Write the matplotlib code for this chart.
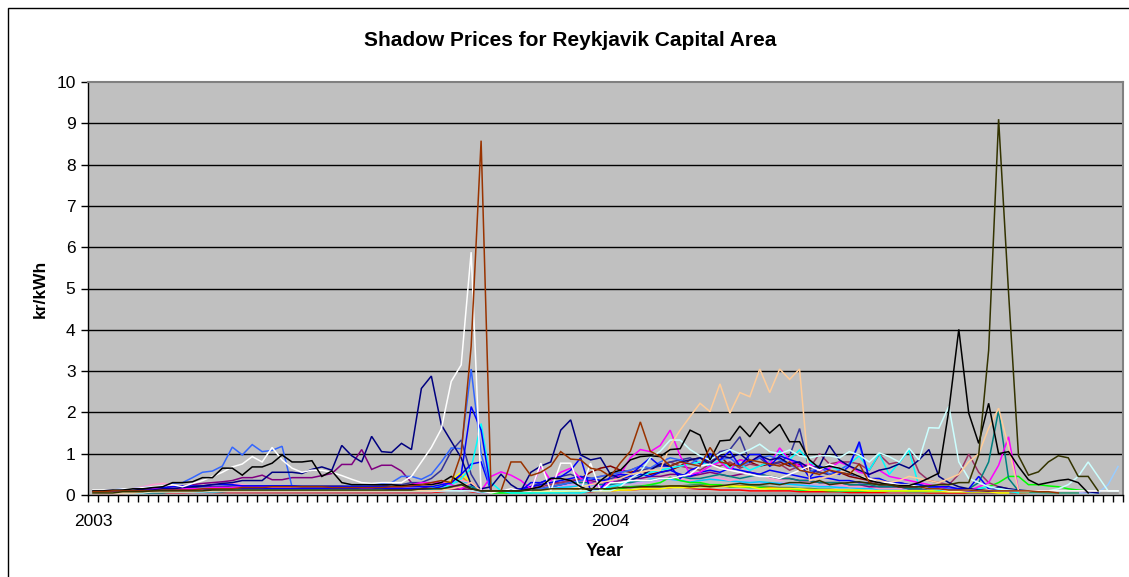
import numpy as np
import matplotlib
matplotlib.use("Agg")
import matplotlib.pyplot as plt
from matplotlib.patches import Rectangle

plt.rcParams['font.family'] = ['Liberation Sans', 'DejaVu Sans']

title = "Shadow Prices for Reykjavik Capital Area"
y_label = "kr/kWh"
x_label = "Year"
n_weeks = 104
year_labels = {0: "2003", 52: "2004"}

navy = [
    .10, .10, .10, .12, .12, .12, .12, .15, .15, .18,
    .20, .22, .25, .28, .30, .35, .35, .35, .55, .55,
    .55, .52, .62, .68, .60, 1.20, .95, .80, 1.42, 1.05,
    1.03, 1.25, 1.10, 2.58, 2.88, 1.70, 1.30, .90, .25, .15,
    .20, .50, .25, .10, .55, .70, .80, 1.57, 1.82, .97,
    .85, .90, .50, .40, .35, .45, .60, .75, .70, .80,
    .85, .90, .75, .95, .90, 1.00, .80, .95, .85, .90,
    .75, .80, .65, .70, 1.20, .85, .70, .60, .50, .60,
    .65, .75, .65, .85, 1.10, .45, .30, .20, .15, .12,
    .10, .20, .15, .12, .10, .10, .10, .10, .10, .10,
    .08, .05, None, None]

white = [
    .12, .12, .12, .15, .15, .18, .20, .22, .25, .20,
    .28, .35, .45, .55, .68, .75, .93, .80, 1.15, .85,
    .65, .55, .60, .60, .55, .47, .38, .30, .28, .30,
    .30, .30, .45, .80, 1.15, 1.60, 2.75, 3.15, 5.88, .10,
    .05, .10, .15, .10, .10, .77, .10, .77, .77, .10,
    .77, .10, .30, .30, .35, .35, .35, .40, .40, .45,
    .50, .70, .75, .65, .60, .55, .50, .45, .45, .40,
    .50, .60, .70, .60, .75, .65, .55, .45, .40, .30,
    .30, .25, .25, .20, .15, .15, .10, .10, .12, .10,
    .12, .10, .10, .10, .10, .10, .10, .10, .10, .10,
    .10, .10, .10, .10]

light_blue = [
    .10, .10, .12, .15, .15, .18, .20, .20, .28, .30,
    .42, .55, .58, .70, 1.16, .97, 1.22, 1.05, 1.08, 1.18,
    .20, .20, .20, .20, .20, .20, .22, .22, .25, .28,
    .30, .45, .45, .38, .50, .80, 1.14, 1.12, 3.05, 1.00,
    .10, .10, .10, .10, .10, .15, .20, .25, .30, .35,
    .40, .45, .50, .55, .60, .70, .65, .80, .90, .85,
    .75, .90, .95, .85, .90, .70, .80, .90, .95, .85,
    .75, .60, .55, .70, .50, .60, .75, 1.22, .40, .35,
    .30, .25, .25, .20, .20, .15, .15, .12, .10, .10,
    .10, .10, .10, .10, .10, .10, .10, .10, .10, .10,
    .10, .10, None, None]

black = [
    .10, .10, .12, .12, .15, .15, .18, .20, .30, .30,
    .32, .42, .42, .65, .65, .48, .68, .68, .77, .97,
    .80, .80, .83, .45, .58, .30, .25, .25, .25, .25,
    .25, .22, .25, .25, .25, .30, .45, .30, .15, .10,
    .10, .10, .10, .10, .15, .20, .40, .40, .35, .20,
    .10, .35, .53, .60, .85, .93, .95, .93, 1.10, 1.12,
    1.57, 1.45, .85, 1.31, 1.33, 1.67, 1.41, 1.76, 1.50, 1.71,
    1.29, 1.29, .85, .65, .70, .65, .55, .45, .35, .30,
    .25, .23, .23, .30, .41, .53, 2.05, 4.01, 1.98, 1.25,
    2.22, 1.00, 1.05, .69, .37, .25, .30, .35, .38, .30,
    .05, None, None, None]

brown = [
    .08, .08, .10, .10, .10, .10, .10, .12, .12, .12,
    .12, .15, .15, .15, .15, .18, .18, .18, .20, .20,
    .20, .20, .20, .20, .18, .18, .18, .18, .18, .18,
    .20, .20, .22, .25, .30, .35, .30, 1.00, 3.60, 8.58,
    .10, .10, .80, .80, .47, .55, .70, 1.05, .87, .85,
    .65, .60, .45, .78, 1.06, 1.77, 1.06, .93, .70, .80,
    .75, .70, 1.15, .80, .75, .70, .85, .80, .75, .70,
    .80, .60, .55, .50, .60, .55, .50, .75, .30, .25,
    .25, .20, .20, .20, .15, .15, .12, .12, .12, .10,
    .10, .10, .10, .10, .10, .08, .08, .05, None, None,
    None, None, None, None]

olive = [
    .05, .05, .05, .08, .08, .08, .10, .10, .10, .10,
    .10, .10, .12, .12, .12, .12, .12, .12, .12, .12,
    .12, .12, .12, .12, .12, .12, .12, .12, .12, .12,
    .12, .12, .12, .15, .15, .15, .20, .25, .15, .10,
    .10, .10, .10, .10, .12, .12, .15, .15, .15, .15,
    .15, .15, .15, .18, .18, .20, .20, .20, .22, .22,
    .20, .22, .20, .22, .25, .28, .25, .25, .28, .25,
    .30, .30, .28, .35, .25, .28, .30, .32, .28, .25,
    .25, .20, .20, .20, .22, .25, .25, .30, .30, .97,
    3.50, 9.10, 4.90, .95, .48, .56, .80, .95, .90, .45,
    .45, .10, None, None]

pale_cyan = [
    .05, .05, .05, .05, .05, .05, .08, .08, .08, .08,
    .08, .08, .10, .10, .10, .10, .10, .10, .10, .10,
    .10, .10, .10, .10, .10, .10, .10, .10, .10, .10,
    .10, .10, .10, .10, .10, .10, .10, .10, .10, .10,
    .10, .10, .10, .10, .10, .10, .10, .10, .10, .10,
    .10, .10, .10, .20, .40, .55, .90, 1.06, 1.33, 1.33,
    1.10, .95, .85, 1.00, 1.10, 1.00, 1.10, 1.23, 1.05, 1.00,
    1.09, .95, .90, .95, .95, .90, 1.05, .97, .80, 1.02,
    .93, .80, 1.13, .85, 1.63, 1.62, 2.15, .80, .40, .30,
    .20, .15, .12, .10, .10, .10, .10, .15, .25, .45,
    .80, .45, .10, .10]

tan = [
    .05, .05, .05, .05, .05, .08, .08, .08, .08, .08,
    .08, .10, .10, .10, .10, .10, .10, .10, .10, .10,
    .10, .10, .10, .10, .10, .10, .10, .10, .10, .10,
    .10, .10, .10, .10, .10, .12, .15, .20, .30, .10,
    .10, .10, .10, .10, .10, .12, .12, .15, .15, .20,
    .25, .30, .35, .40, .50, .55, .60, .60, 1.20, 1.57,
    1.90, 2.22, 2.02, 2.69, 1.98, 2.48, 2.38, 3.05, 2.48, 3.05,
    2.80, 3.05, .35, .40, .45, .55, .60, .45, .40, .35,
    .30, .35, .45, .40, .35, .30, .40, .50, .80, 1.00,
    1.62, 2.10, 1.17, .10, .10, .10, .10, .10, .10, .10,
    .10, .10, None, None]

teal = [
    .05, .05, .05, .05, .05, .05, .05, .05, .08, .08,
    .08, .08, .08, .08, .10, .10, .10, .10, .10, .10,
    .10, .10, .10, .10, .10, .10, .10, .10, .10, .10,
    .10, .10, .10, .10, .12, .15, .20, .25, .20, .10,
    .10, .10, .10, .10, .12, .15, .20, .25, .30, .30,
    .30, .25, .25, .30, .30, .35, .35, .40, .40, .45,
    .40, .40, .45, .50, .45, .40, .45, .50, .45, .40,
    .40, .35, .35, .30, .30, .30, .25, .25, .25, .20,
    .20, .20, .15, .15, .15, .15, .15, .12, .15, .30,
    .80, 2.05, .40, .10, None, None, None, None, None, None,
    None, None, None, None]

magenta = [
    .08, .08, .10, .10, .10, .12, .15, .15, .15, .15,
    .15, .15, .18, .18, .18, .20, .20, .20, .20, .20,
    .20, .20, .20, .20, .20, .20, .20, .18, .18, .20,
    .20, .20, .25, .30, .30, .30, .25, .15, .30, .10,
    .45, .56, .48, .35, .15, .70, .35, .55, .65, .40,
    .30, .20, .30, .50, .90, 1.10, 1.05, 1.20, 1.57, .95,
    .50, .55, .70, .80, .60, .85, .80, .95, .75, 1.14,
    .85, .70, .75, .60, .65, .80, .70, .55, .50, .60,
    .45, .40, .35, .30, .25, .20, .15, .12, .10, .20,
    .30, .72, 1.41, .10, None, None, None, None, None, None,
    None, None, None, None]

cyan = [
    .10, .10, .10, .10, .10, .10, .10, .10, .10, .10,
    .10, .10, .10, .12, .12, .12, .12, .12, .12, .12,
    .12, .12, .12, .12, .12, .12, .12, .12, .12, .12,
    .10, .10, .10, .10, .12, .15, .25, .40, .65, 1.73,
    .30, .10, .05, .05, .05, .05, .05, .05, .05, .05,
    .10, .15, .20, .25, .35, .45, .55, .60, .65, .70,
    .75, .80, .70, .85, .65, .75, .60, .70, .80, 1.06,
    .86, 1.09, .80, .65, .70, .60, .75, .95, .60, 1.00,
    .50, .78, 1.09, .20, .15, .12, .12, .12, .12, .15,
    .20, .15, .10, .05, None, None, None, None, None, None,
    None, None, None, None]

blue = [
    .10, .10, .12, .12, .15, .15, .18, .18, .20, .22,
    .22, .22, .25, .25, .25, .22, .22, .22, .22, .22,
    .22, .20, .20, .20, .20, .20, .20, .20, .20, .20,
    .20, .20, .20, .20, .20, .25, .30, .50, 2.14, 1.57,
    .10, .10, .10, .10, .30, .30, .40, .44, .60, .90,
    .10, .15, .45, .50, .48, .70, .90, .70, .70, .40,
    .60, .69, 1.00, .85, 1.06, .70, .98, .98, .70, .95,
    .86, .78, .42, .70, .60, .50, .70, 1.29, .40, .40,
    .30, .30, .25, .25, .20, .20, .20, .15, .15, .45,
    .15, .10, .10, .10, None, None, None, None, None, None,
    None, None, None, None]

blue_b = [
    .08, .08, .08, .10, .10, .10, .10, .12, .12, .12,
    .12, .12, .15, .15, .15, .15, .15, .15, .15, .15,
    .15, .15, .15, .15, .15, .15, .15, .15, .15, .15,
    .15, .15, .15, .15, .15, .20, .30, .50, .75, .80,
    .10, .10, .12, .15, .20, .25, .30, .35, .40, .45,
    .40, .35, .35, .40, .45, .50, .45, .55, .60, .50,
    .45, .55, .60, .55, .65, .60, .55, .50, .60, .55,
    .50, .45, .40, .45, .40, .35, .35, .30, .30, .25,
    .25, .20, .20, .20, .15, .15, .15, .12, .12, .10,
    .10, .10, .10, None, None, None, None, None, None, None,
    None, None, None, None]

purple = [
    .10, .10, .10, .12, .12, .15, .15, .18, .20, .22,
    .25, .28, .30, .32, .35, .42, .42, .48, .37, .37,
    .42, .42, .42, .47, .52, .74, .74, 1.10, .62, .72,
    .72, .58, .30, .20, .15, .15, .15, .15, .12, .10,
    .10, .10, .12, .15, .20, .25, .30, .30, .35, .35,
    .35, .30, .30, .35, .40, .40, .45, .45, .50, .50,
    .45, .50, .55, .50, .45, .50, .55, .50, .45, .40,
    .40, .35, .35, .30, .30, .30, .25, .25, .20, .20,
    .20, .20, .15, .15, .15, .15, .12, .12, .10, .10,
    .10, .10, .10, .10, .10, None, None, None, None, None,
    None, None, None, None]

plum = [
    .08, .08, .08, .10, .10, .10, .10, .10, .12, .12,
    .12, .12, .12, .12, .12, .12, .12, .12, .12, .12,
    .12, .12, .12, .12, .12, .12, .12, .12, .12, .12,
    .12, .12, .12, .15, .15, .15, .20, .20, .15, .10,
    .10, .10, .10, .12, .15, .20, .25, .30, .35, .40,
    .40, .45, .50, .55, .60, .70, .65, .75, .80, .70,
    .65, .60, .75, .70, .80, .65, .75, .70, .80, .75,
    .60, .70, .65, 1.00, .75, .80, .80, .75, .60, .98,
    .75, .80, 1.11, .55, .35, .30, .25, .50, .99, .55,
    .30, .20, .15, .10, .10, .10, .10, .10, None, None,
    None, None, None, None]

indigo = [
    .10, .10, .10, .12, .12, .12, .15, .15, .15, .18,
    .18, .20, .20, .20, .22, .22, .22, .22, .22, .22,
    .22, .22, .22, .22, .22, .22, .22, .22, .22, .22,
    .25, .25, .30, .30, .40, .60, 1.06, 1.33, .50, .10,
    .10, .10, .10, .15, .20, .30, .40, .45, .50, .40,
    .40, .35, .40, .45, .50, .60, .65, .70, .80, .85,
    .90, .75, .80, 1.05, 1.10, 1.41, .80, .90, .70, .80,
    .95, 1.61, .60, .55, .50, .55, .50, .45, .40, .35,
    .30, .30, .25, .25, .20, .20, .15, .15, .12, .10,
    .10, .10, .10, .10, .10, .10, None, None, None, None,
    None, None, None, None]

dark_red = [
    .08, .08, .08, .08, .10, .10, .10, .10, .10, .12,
    .12, .12, .12, .12, .15, .15, .15, .15, .15, .15,
    .15, .15, .15, .15, .15, .15, .15, .15, .15, .15,
    .15, .15, .15, .15, .15, .15, .15, .15, .12, .10,
    .10, .10, .10, .10, .10, .15, .20, .25, .30, .40,
    .55, .65, .70, .60, .55, .60, .50, .55, .60, .70,
    .85, .90, .80, .95, .70, .85, .80, .70, .75, .80,
    .70, .75, .60, .55, .50, .55, .45, .40, .35, .30,
    .25, .25, .20, .20, .20, .20, .15, .15, .15, .15,
    .12, .10, .10, .10, .10, None, None, None, None, None,
    None, None, None, None]

yellow = [
    .10, .10, .10, .10, .10, .12, .12, .12, .12, .15,
    .15, .15, .15, .15, .18, .18, .18, .20, .20, .20,
    .20, .18, .18, .18, .15, .15, .15, .15, .15, .15,
    .15, .15, .15, .15, .20, .25, .35, .55, .30, .10,
    .10, .10, .10, .08, .08, .08, .08, .08, .10, .10,
    .10, .10, .10, .12, .12, .15, .15, .15, .18, .18,
    .18, .20, .20, .20, .22, .20, .20, .15, .15, .15,
    .15, .15, .12, .12, .12, .12, .12, .12, .10, .10,
    .10, .10, .10, .10, .10, .10, .08, .08, .08, .08,
    .08, .05, .05, None, None, None, None, None, None, None,
    None, None, None, None]

green = [
    None, None, None, None, None, None, None, None, None, None,
    None, None, None, None, None, None, None, None, None, None,
    None, None, None, None, None, None, None, None, None, None,
    None, None, None, None, None, None, None, None, None, None,
    .05, .05, .05, .05, .05, .10, .10, .10, .10, .10,
    .10, .12, .15, .15, .20, .20, .25, .30, .43, .35,
    .30, .30, .25, .25, .20, .20, .18, .18, .15, .15,
    .15, .12, .12, .12, .10, .10, .10, .10, .10, .10,
    .10, .10, .10, .10, .10, .10, .10, .12, .10, .15,
    .20, .30, .45, .45, .25, .25, .22, .20, .15, .12,
    .10, None, None, None]

rose = [
    .10, .10, .10, .12, .15, .20, .25, .28, .25, .20,
    .20, .22, .25, .28, .28, .25, .22, .20, .20, .20,
    .18, .18, .18, .18, .18, .18, .18, .18, .18, .18,
    .18, .18, .20, .20, .25, .30, .35, .35, .30, .10,
    .10, .10, .12, .15, .20, .25, .30, .30, .35, .35,
    .30, .30, .25, .30, .35, .40, .35, .40, .45, .40,
    .35, .40, .45, .40, .35, .40, .45, .50, .40, .35,
    .40, .35, .30, .30, .25, .25, .20, .20, .20, .15,
    .15, .15, .15, .12, .12, .12, .10, .10, .10, .10,
    .10, .10, .10, .10, .10, .10, .10, .10, .10, .10,
    None, None, None, None]

lavender = [
    .06, .06, .06, .08, .08, .08, .10, .10, .10, .10,
    .12, .12, .12, .12, .14, .14, .14, .14, .14, .14,
    .14, .14, .14, .14, .14, .14, .14, .14, .14, .14,
    .14, .14, .14, .16, .18, .20, .22, .25, .15, .08,
    .08, .08, .10, .12, .15, .18, .20, .22, .25, .25,
    .22, .20, .22, .25, .28, .30, .32, .35, .38, .35,
    .32, .35, .38, .40, .35, .32, .35, .30, .28, .30,
    .28, .25, .25, .22, .22, .20, .20, .18, .18, .16,
    .16, .14, .14, .14, .12, .12, .12, .10, .10, .10,
    .10, .10, .08, .08, .08, .08, .08, .08, .08, .08,
    .08, .08, None, None]

pale_blue = [
    .05, .05, .05, .05, .05, .05, .05, .06, .06, .06,
    .06, .06, .06, .08, .08, .08, .08, .08, .08, .08,
    .08, .08, .08, .08, .08, .08, .08, .08, .08, .08,
    .08, .08, .08, .08, .08, .10, .10, .12, .10, .05,
    .05, .05, .05, .05, .06, .06, .08, .08, .10, .10,
    .12, .12, .14, .14, .16, .16, .18, .18, .20, .20,
    .18, .18, .20, .20, .22, .20, .18, .18, .16, .16,
    .14, .14, .12, .12, .12, .10, .10, .10, .10, .10,
    .08, .08, .08, .08, .08, .08, .08, .08, .06, .06,
    .06, .06, .06, .06, .05, .05, .05, .05, .05, .05,
    .05, .05, .25, .69]

sky_blue = [
    .08, .08, .08, .08, .10, .10, .10, .10, .12, .12,
    .12, .12, .14, .14, .14, .14, .14, .14, .14, .14,
    .14, .14, .14, .14, .14, .14, .14, .14, .14, .14,
    .14, .14, .14, .16, .18, .22, .28, .35, .25, .08,
    .06, .06, .06, .08, .10, .12, .15, .18, .20, .22,
    .25, .25, .28, .30, .32, .35, .38, .40, .38, .35,
    .32, .35, .38, .36, .34, .32, .30, .32, .30, .28,
    .26, .24, .22, .20, .20, .18, .18, .16, .16, .14,
    .14, .12, .12, .12, .10, .10, .10, .10, .10, .10,
    .10, .10, .08, .08, .08, None, None, None, None, None,
    None, None, None, None]

orange = [
    .06, .06, .06, .06, .08, .08, .08, .08, .08, .10,
    .10, .10, .10, .10, .10, .10, .10, .10, .10, .10,
    .10, .10, .10, .10, .10, .10, .10, .10, .10, .10,
    .10, .10, .10, .12, .15, .22, .30, .45, .25, .08,
    .06, .06, .06, .06, .08, .08, .10, .10, .12, .12,
    .14, .14, .16, .16, .18, .18, .20, .20, .22, .22,
    .20, .22, .24, .22, .20, .22, .20, .18, .18, .16,
    .16, .14, .14, .12, .12, .12, .10, .10, .10, .10,
    .10, .10, .10, .10, .08, .08, .08, .08, .08, .08,
    .08, .08, .08, .06, .06, None, None, None, None, None,
    None, None, None, None]

red = [
    .04, .04, .04, .04, .05, .05, .05, .05, .05, .05,
    .06, .06, .06, .06, .06, .06, .06, .06, .06, .06,
    .06, .06, .06, .06, .06, .06, .06, .06, .06, .06,
    .06, .06, .06, .06, .06, .08, .10, .12, .08, .05,
    .05, .05, .05, .05, .05, .06, .06, .06, .08, .08,
    .08, .10, .10, .12, .12, .14, .14, .16, .18, .20,
    .16, .14, .14, .12, .12, .12, .10, .10, .10, .10,
    .10, .08, .08, .08, .08, .08, .06, .06, .06, .06,
    .06, .06, .06, .06, .05, .05, .05, .05, .05, .05,
    .05, .05, .05, .05, .05, None, None, None, None, None,
    None, None, None, None]

gray = [
    .04, .04, .04, .04, .04, .04, .04, .04, .04, .04,
    .04, .04, .04, .04, .04, .04, .04, .04, .04, .04,
    .04, .04, .04, .04, .04, .04, .04, .04, .04, .04,
    .04, .04, .04, .04, .04, .04, .04, .04, .04, .04,
    .04, .04, .04, .04, .04, .04, .04, .04, .04, .04,
    .04, .04, .04, .04, .04, .04, .04, .04, .04, .04,
    .04, .04, .04, .04, .04, .04, .04, .04, .04, .04,
    .04, .04, .04, .04, .04, .04, .04, .04, .04, .04,
    .04, .04, .04, .04, .04, .04, .04, .04, .04, .04,
    .04, .04, .04, .04, .04, .04, .04, .04, .04, .04,
    .04, .04, .04, .04]

sea_green = [
    None, None, None, None, None, None, None, None, None, None,
    None, None, None, None, None, None, None, None, None, None,
    None, None, None, None, None, None, None, None, None, None,
    None, None, None, None, None, None, None, None, None, None,
    None, None, None, None, None, .05, .06, .08, .10, .12,
    .14, .16, .18, .20, .20, .22, .24, .22, .20, .22,
    .24, .26, .24, .22, .20, .22, .24, .22, .20, .18,
    .18, .16, .16, .14, .14, .12, .12, .12, .10, .10,
    .10, .10, .08, .08, .08, .08, .08, .08, .06, .06,
    .06, .06, .06, .06, .06, .06, .05, .05, .05, .05,
    None, None, None, None]

series = [
    (gray, "#969696"), (red, "#FF0000"), (pale_blue, "#99CCFF"),
    (lavender, "#CC99FF"), (sea_green, "#339966"), (orange, "#FF9900"),
    (sky_blue, "#00CCFF"), (rose, "#FF99CC"), (green, "#00FF00"),
    (yellow, "#FFFF00"), (dark_red, "#800000"), (purple, "#800080"),
    (plum, "#993366"), (indigo, "#333399"), (teal, "#008080"),
    (blue_b, "#0000FF"), (cyan, "#00FFFF"), (magenta, "#FF00FF"),
    (light_blue, "#3366FF"), (blue, "#0000FF"), (navy, "#000080"),
    (pale_cyan, "#CCFFFF"), (tan, "#FFCC99"), (white, "#FFFFFF"),
    (black, "#000000"), (brown, "#993300"), (olive, "#333300"),
]

W, H = 1129, 577
fig = plt.figure(figsize=(W / 100, H / 100), dpi=100)
fig.patch.set_facecolor("white")

# outer chart frame
fig.patches.append(Rectangle((7.5 / W, -1.0), 5.0, 2.0 - 7.5 / H,
                             transform=fig.transFigure, fill=False,
                             edgecolor="black", linewidth=1.0))

L, R, T, B = 88, 1123, 82, 495
ax = fig.add_axes([L / W, 1 - B / H, (R - L) / W, (B - T) / H])
ax.set_facecolor("#C0C0C0")

for vals, col in series:
    y = np.array([np.nan if v is None else v for v in vals], dtype=float)
    x = np.arange(len(y))
    ax.plot(x, y, color=col, linewidth=1.1, solid_joinstyle="miter",
            clip_on=True, zorder=3)

ax.set_xlim(-0.5, n_weeks - 0.5)
ax.set_ylim(0, 10)
ax.set_yticks(range(0, 11))
ax.set_yticklabels([str(v) for v in range(0, 11)], fontsize=12.5)
for yv in range(1, 10):
    ax.axhline(yv, color="black", linewidth=1.0, zorder=1)

ax.set_xticks(list(year_labels.keys()))
ax.set_xticklabels(list(year_labels.values()), fontsize=12.5)
ax.set_xticks(np.arange(-0.5, n_weeks, 1.0), minor=True)
ax.tick_params(axis="x", which="major", length=0, pad=14)
ax.tick_params(axis="x", which="minor", length=5, width=1, direction="out")
ax.tick_params(axis="y", which="major", length=5, width=1, direction="out", pad=4)

for side in ("left", "bottom"):
    ax.spines[side].set_color("black")
    ax.spines[side].set_linewidth(1.0)
for side in ("top", "right"):
    ax.spines[side].set_color("#808080")
    ax.spines[side].set_linewidth(1.5)

fig.text(570 / W, 1 - 41 / H, title, ha="center", va="center",
         fontsize=15, fontweight="bold")
fig.text(40 / W, 1 - 289 / H, y_label, ha="center", va="center",
         rotation=90, fontsize=12.5, fontweight="bold")
fig.text(605 / W, 1 - 551 / H, x_label, ha="center", va="center",
         fontsize=13, fontweight="bold")

fig.savefig("out.png", dpi=100)
